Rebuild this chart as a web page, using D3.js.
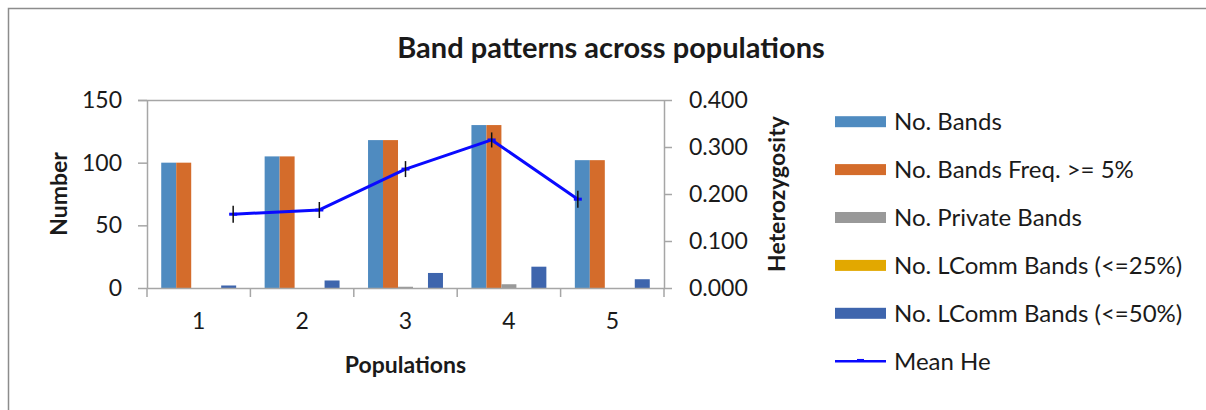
<!DOCTYPE html>
<html>
<head>
<meta charset="utf-8">
<script src="https://cdn.jsdelivr.net/npm/d3@7"></script>
<style>
  html, body { margin: 0; padding: 0; background: #fff; }
  svg { display: block; font-family: Lato, "Liberation Sans", sans-serif; }
</style>
</head>
<body>
<svg id="chart" width="1206" height="410"></svg>
<script>
// Populations on the category axis
const populations = ["1", "2", "3", "4", "5"];

// Bar series (left axis, counts)
const noBands        = [100, 105, 118, 130, 102];
const noBandsFreq5   = [100, 105, 118, 130, 102];
const noPrivateBands = [0, 0, 1, 3, 0];
const noLComm25      = [0, 0, 0, 0, 0];
const noLComm50      = [2, 6, 12, 17, 7];

// Line series (right axis) with its standard errors
const meanHe   = [0.157, 0.166, 0.253, 0.315, 0.189];
const meanHeSE = [0.018, 0.017, 0.017, 0.016, 0.018];

// Axis tick values
const leftTicks  = [0, 50, 100, 150];
const rightTicks = [0, 0.1, 0.2, 0.3, 0.4];

const barSeries = [
  { name: "No. Bands",                values: noBands,        color: "#4f8bc0" },
  { name: "No. Bands Freq. >= 5%",    values: noBandsFreq5,   color: "#d46c2b" },
  { name: "No. Private Bands",        values: noPrivateBands, color: "#999999" },
  { name: "No. LComm Bands (<=25%)",  values: noLComm25,      color: "#e2a800" },
  { name: "No. LComm Bands (<=50%)",  values: noLComm50,      color: "#3e65ad" }
];

const svg = d3.select("#chart");
const axisColor = "#a6a6a6";
const textColor = "#1a1a1a";
const fontSize = "23px";

// outer chart frame
svg.append("rect")
  .attr("x", 8.5).attr("y", 8.5)
  .attr("width", 1400).attr("height", 600)
  .attr("fill", "none").attr("stroke", "#8c8c8c").attr("stroke-width", 1.5);

const plot = { left: 147, right: 664, top: 100, bottom: 288 };

const x = d3.scaleBand().domain(populations).range([plot.left, plot.right]).padding(0);
const xInner = d3.scaleBand().domain(barSeries.map(s => s.name))
  .range([0, x.bandwidth()]).paddingInner(0).paddingOuter(0.95);
const yLeft = d3.scaleLinear().domain([0, 150]).range([plot.bottom, plot.top]);
const yRight = d3.scaleLinear().domain([0, 0.4]).range([plot.bottom, plot.top]);
// secondary category positions for the line series (on-tick, padded by one slot)
const xLine = d3.scaleLinear().domain([0, populations.length + 1]).range([plot.left, plot.right]);

// bars
const groups = svg.append("g").selectAll("g")
  .data(barSeries).join("g").attr("fill", d => d.color);
groups.selectAll("rect")
  .data(s => s.values.map((v, i) => ({ s, v, cat: populations[i] })))
  .join("rect")
  .attr("x", d => x(d.cat) + xInner(d.s.name))
  .attr("width", xInner.bandwidth())
  .attr("y", d => yLeft(d.v))
  .attr("height", d => yLeft(0) - yLeft(d.v));

// top border of the plot area
svg.append("line")
  .attr("x1", plot.left - 9).attr("x2", plot.right)
  .attr("y1", plot.top + 0.5).attr("y2", plot.top + 0.5)
  .attr("stroke", axisColor).attr("stroke-width", 1.5);

// left axis
const gL = svg.append("g").attr("transform", `translate(${plot.left},0)`)
  .call(d3.axisLeft(yLeft).tickValues(leftTicks).tickSize(9).tickPadding(16).tickSizeOuter(0));
// right axis
const gR = svg.append("g").attr("transform", `translate(${plot.right},0)`)
  .call(d3.axisRight(yRight).tickValues(rightTicks).tickSize(8).tickPadding(17)
    .tickSizeOuter(0).tickFormat(d3.format(".3f")));
// bottom axis: labels at centres, ticks at category boundaries
const gB = svg.append("g").attr("transform", `translate(0,${plot.bottom})`)
  .call(d3.axisBottom(x).tickSize(0).tickPadding(25).tickSizeOuter(0));
gB.selectAll(".bound").data(populations.map(p => x(p)).concat([plot.right]))
  .join("line").attr("class", "bound")
  .attr("x1", d => d).attr("x2", d => d).attr("y1", 0).attr("y2", 9);

[gL, gR, gB].forEach(g => {
  g.select(".domain").attr("stroke", axisColor).attr("stroke-width", 1.5);
  g.selectAll("line").attr("stroke", axisColor).attr("stroke-width", 1.5);
  g.selectAll("text").attr("fill", textColor).style("font-size", fontSize)
    .style("font-family", "Lato, 'Liberation Sans', sans-serif");
});

// Mean He line
const lineGen = d3.line().x((d, i) => xLine(i + 1)).y(d => yRight(d));
svg.append("path").datum(meanHe)
  .attr("d", lineGen).attr("fill", "none")
  .attr("stroke", "#0a0aff").attr("stroke-width", 3).attr("stroke-linejoin", "round");
// dash markers
svg.append("g").selectAll("line").data(meanHe).join("line")
  .attr("x1", (d, i) => xLine(i + 1) - 4).attr("x2", (d, i) => xLine(i + 1) + 4)
  .attr("y1", d => yRight(d)).attr("y2", d => yRight(d))
  .attr("stroke", "#0a0aff").attr("stroke-width", 3);
// error bars
svg.append("g").selectAll("line").data(meanHe).join("line")
  .attr("x1", (d, i) => xLine(i + 1)).attr("x2", (d, i) => xLine(i + 1))
  .attr("y1", (d, i) => yRight(d + meanHeSE[i])).attr("y2", (d, i) => yRight(d - meanHeSE[i]))
  .attr("stroke", "#111").attr("stroke-width", 1.5);

// title
svg.append("text").attr("x", 611).attr("y", 58).attr("text-anchor", "middle")
  .attr("fill", textColor).style("font-size", "29px").style("font-weight", "bold")
  .text("Band patterns across populations");

// axis titles
svg.append("text").attr("x", (plot.left + plot.right) / 2).attr("y", 373)
  .attr("text-anchor", "middle").attr("fill", textColor)
  .style("font-size", fontSize).style("font-weight", "bold").text("Populations");
svg.append("text").attr("transform", `translate(67,${(plot.top + plot.bottom) / 2}) rotate(-90)`)
  .attr("text-anchor", "middle").attr("fill", textColor)
  .style("font-size", fontSize).style("font-weight", "bold").text("Number");
svg.append("text").attr("transform", `translate(785,${(plot.top + plot.bottom) / 2}) rotate(-90)`)
  .attr("text-anchor", "middle").attr("fill", textColor)
  .style("font-size", fontSize).style("font-weight", "bold").text("Heterozygosity");

// legend
const legendItems = barSeries.map(s => ({ name: s.name, color: s.color, type: "bar" }))
  .concat([{ name: "Mean He", color: "#0a0aff", type: "line" }]);
const legend = svg.append("g").selectAll("g").data(legendItems).join("g")
  .attr("transform", (d, i) => `translate(835,${121.7 + i * 47.9})`);
legend.filter(d => d.type === "bar").append("rect")
  .attr("x", 0).attr("y", -5.5).attr("width", 51).attr("height", 11).attr("fill", d => d.color);
legend.filter(d => d.type === "line").append("line")
  .attr("x1", 0).attr("x2", 51).attr("y1", 0).attr("y2", 0)
  .attr("stroke", d => d.color).attr("stroke-width", 2.5);
legend.filter(d => d.type === "line").append("line")
  .attr("x1", 22).attr("x2", 29).attr("y1", -1).attr("y2", -1)
  .attr("stroke", d => d.color).attr("stroke-width", 2.5);
legend.append("text").attr("x", 59).attr("y", 0).attr("dy", "0.36em")
  .attr("fill", textColor).style("font-size", "24px").text(d => d.name);
</script>
</body>
</html>
